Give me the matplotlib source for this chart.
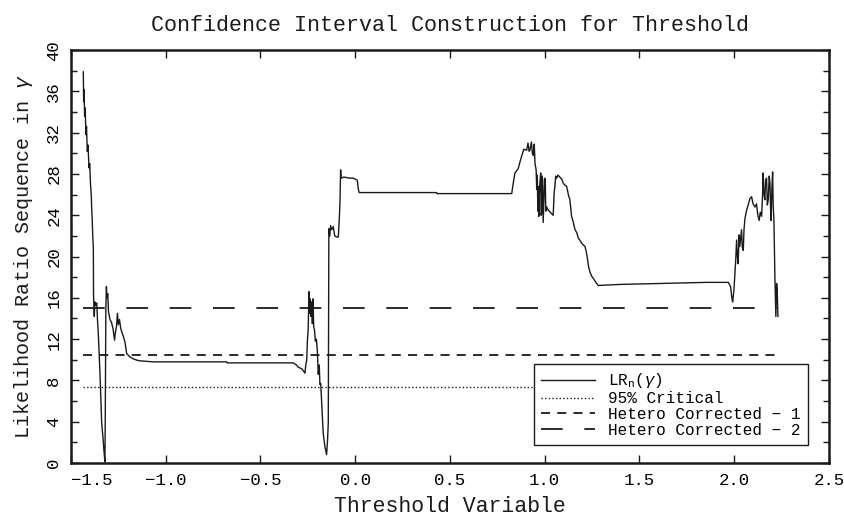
import numpy as np
import matplotlib
matplotlib.use("Agg")
import matplotlib.pyplot as plt
from matplotlib.ticker import MultipleLocator

# --- data ---
lr_x = [-1.435, -1.433, -1.431, -1.428, -1.425, -1.421, -1.418, -1.414, -1.410, -1.405,
        -1.401, -1.397, -1.393, -1.391, -1.388, -1.385, -1.382, -1.381, -1.379, -1.377,
        -1.374, -1.370, -1.364, -1.360, -1.356, -1.352, -1.347, -1.342, -1.338, -1.334,
        -1.330, -1.326, -1.321, -1.319, -1.316, -1.313, -1.310, -1.306, -1.302, -1.298,
        -1.294, -1.286, -1.278, -1.270, -1.266, -1.260, -1.255, -1.250, -1.244, -1.238,
        -1.232, -1.224, -1.215, -1.206, -1.190, -1.173, -1.150, -1.136, -1.100, -1.067,
        -0.678, -0.676, -0.328, -0.310, -0.302, -0.280, -0.265, -0.261, -0.256, -0.252,
        -0.248, -0.244, -0.241, -0.237, -0.233, -0.230, -0.226, -0.223, -0.219, -0.215,
        -0.210, -0.205, -0.200, -0.195, -0.190, -0.186, -0.182, -0.175, -0.169, -0.160,
        -0.151, -0.146, -0.142, -0.139, -0.134, -0.130, -0.124, -0.116, -0.108, -0.098,
        -0.089, -0.083, -0.080, -0.077, -0.074, -0.060, -0.030, -0.010, 0.011, 0.016,
        0.021, 0.430, 0.432, 0.826, 0.834, 0.843, 0.860, 0.870, 0.878, 0.890,
        0.905, 0.912, 0.918, 0.922, 0.930, 0.935, 0.940, 0.945, 0.949, 0.955,
        0.958, 0.961, 0.964, 0.966, 0.969, 0.971, 0.975, 0.979, 0.981, 0.984,
        0.987, 0.989, 0.992, 0.996, 1.000, 1.003, 1.006, 1.010, 1.019, 1.035,
        1.045, 1.050, 1.054, 1.058, 1.063, 1.070, 1.080, 1.090, 1.098, 1.108,
        1.116, 1.125, 1.133, 1.138, 1.142, 1.150, 1.160, 1.170, 1.177, 1.185,
        1.195, 1.205, 1.212, 1.218, 1.224, 1.232, 1.239, 1.248, 1.256, 1.270,
        1.283, 1.397, 1.626, 1.855, 1.969, 1.981, 1.988, 1.992, 1.999, 2.004,
        2.008, 2.013, 2.017, 2.021, 2.026, 2.030, 2.039, 2.043, 2.048, 2.052,
        2.057, 2.066, 2.074, 2.083, 2.092, 2.100, 2.110, 2.118, 2.125, 2.132,
        2.138, 2.145, 2.150, 2.153, 2.157, 2.162, 2.166, 2.171, 2.175, 2.180,
        2.185, 2.189, 2.192, 2.195, 2.199, 2.203, 2.206, 2.210, 2.215, 2.220,
        2.224, 2.227, 2.231]
lr_y = [37.9, 35.0, 36.2, 33.6, 34.4, 31.8, 32.6, 30.2, 30.8, 28.6,
        29.0, 27.0, 26.0, 24.8, 23.6, 21.9, 20.8, 16.4, 15.0, 14.2,
        15.6, 15.3, 15.5, 13.8, 12.6, 10.9, 8.7, 6.0, 3.9, 3.1,
        2.2, 1.2, 0.1, 4.5, 15.0, 17.1, 16.0, 16.4, 14.6, 14.3,
        13.9, 13.6, 13.0, 11.9, 12.6, 13.2, 14.5, 13.4, 13.9, 13.1,
        12.7, 12.3, 11.7, 10.6, 10.3, 10.1, 9.95, 9.9, 9.85, 9.8,
        9.8, 9.7, 9.7, 9.5, 9.3, 9.1, 8.7, 9.5, 9.95, 11.9,
        13.0, 16.6, 14.5, 15.9, 14.2, 15.6, 13.5, 15.9, 13.2, 12.9,
        11.8, 12.0, 10.9, 8.6, 9.5, 7.6, 7.7, 5.0, 2.9, 1.6,
        0.8, 2.2, 3.9, 22.7, 22.0, 23.0, 22.6, 22.9, 22.0, 21.9,
        21.9, 24.0, 25.5, 28.4, 27.6, 27.7, 27.6, 27.6, 27.4, 26.6,
        26.2, 26.2, 26.1, 26.1, 27.1, 28.1, 28.5, 29.2, 29.7, 30.4,
        30.3, 31.0, 30.2, 30.3, 31.1, 30.0, 29.8, 30.9, 29.0, 28.4,
        26.5, 27.9, 24.4, 26.8, 23.9, 25.8, 27.2, 28.1, 24.0, 24.2,
        27.8, 27.4, 23.3, 25.5, 27.6, 27.4, 24.4, 24.8, 24.5, 24.2,
        24.0, 26.2, 26.8, 27.8, 27.6, 27.9, 27.7, 27.5, 27.1, 26.9,
        26.8, 26.0, 25.5, 24.6, 23.9, 23.4, 22.6, 22.3, 21.8, 21.6,
        21.3, 21.1, 21.0, 20.6, 20.0, 19.0, 18.5, 18.1, 17.9, 17.5,
        17.2, 17.3, 17.4, 17.5, 17.5, 17.1, 16.0, 15.6, 16.8, 18.4,
        19.6, 21.6, 20.0, 19.3, 22.1, 21.0, 22.6, 20.9, 20.6, 22.6,
        23.7, 24.5, 25.0, 25.6, 25.8, 25.1, 24.8, 25.1, 24.0, 23.5,
        24.3, 23.9, 26.0, 28.1, 26.1, 25.5, 27.4, 27.6, 25.0, 25.5,
        27.8, 27.1, 24.8, 23.5, 26.5, 28.2, 25.0, 23.5, 18.0, 14.2,
        17.4, 16.8, 14.2]

crit_95 = 7.35
hetero_1 = 10.45
hetero_2 = 15.0

x_ticks = [-1.5, -1.0, -0.5, 0.0, 0.5, 1.0, 1.5, 2.0, 2.5]
y_ticks = list(range(0, 41, 4))

# --- plot ---
plt.rcParams['font.family'] = ['Liberation Mono', 'DejaVu Sans Mono']
plt.rcParams['mathtext.fontset'] = 'custom'
plt.rcParams['mathtext.rm'] = 'Liberation Mono'
plt.rcParams['mathtext.it'] = 'Liberation Mono:italic'
ink = '#1a1a1a'

fig = plt.figure(figsize=(8.44, 5.18), dpi=100)
ax = fig.add_axes([0.0841, 0.1062, 0.898, 0.797])

x0, x1 = min(lr_x), max(lr_x)
ax.plot(lr_x, lr_y, color=ink, lw=1.0, label=r'LR$_\mathrm{n}$($\gamma$)')
ax.plot([x0, x1], [crit_95, crit_95], color=ink, lw=1.0, ls=(0, (1, 1.6)), label='95% Critical')
ax.plot([x0, x1], [hetero_1, hetero_1], color=ink, lw=1.3, ls=(0, (5, 4)), label='Hetero Corrected \u2212 1')
ax.plot([x0, x1], [hetero_2, hetero_2], color=ink, lw=1.3, ls=(0, (12, 12)), label='Hetero Corrected \u2212 2')

ax.set_xlim(-1.5, 2.5)
ax.set_ylim(0, 40)
ax.set_xticks(x_ticks)
ax.set_xticklabels([f'{t:.1f}'.replace('-', '\u2212') for t in x_ticks])
ax.set_yticks(y_ticks)
ax.yaxis.set_minor_locator(MultipleLocator(2))
ax.tick_params(which='both', direction='in', top=True, right=True, color=ink, width=1.0)
ax.tick_params(which='major', length=6)
ax.tick_params(which='minor', length=4)
ax.tick_params(axis='x', labelsize=12.5, pad=7)
ax.tick_params(axis='y', labelsize=12.5, pad=7, labelrotation=90)
for lbl in ax.get_yticklabels():
    lbl.set_va('center')
# first x label sits inside the frame, as in the reference
ax.get_xticklabels()[0].set_ha('left')
for s in ax.spines.values():
    s.set_linewidth(1.8)
    s.set_color(ink)

ax.set_title('Confidence Interval Construction for Threshold', fontsize=15.6, pad=14, color=ink)
ax.set_xlabel('Threshold Variable', fontsize=15.5, labelpad=6, color=ink)
ax.set_ylabel(r'Likelihood Ratio Sequence in $\gamma$', fontsize=14.5, labelpad=8, color=ink)

leg = ax.legend(loc='lower right', bbox_to_anchor=(0.972, 0.0436), fontsize=11.5,
                frameon=True, fancybox=False, framealpha=1, edgecolor=ink,
                handlelength=3.4, labelspacing=0.05, borderpad=0.45, handletextpad=0.8,
                borderaxespad=0)
leg.get_frame().set_linewidth(1.0)

fig.savefig('out.png', dpi=100)
